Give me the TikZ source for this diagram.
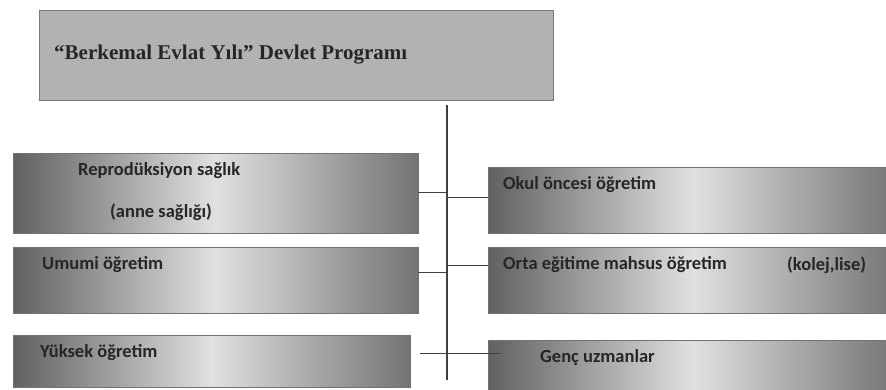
\documentclass[tikz,border=0pt]{standalone}
\usepackage{fontspec}
\setmainfont{Liberation Serif}
\newfontfamily\boxfont{Carlito}
\usepackage{tikz}
\usetikzlibrary{positioning}

\definecolor{progfill}{RGB}{178,178,178}
\definecolor{progline}{RGB}{120,120,120}

\begin{document}
\begin{tikzpicture}[x=1pt,y=-1pt]
    \useasboundingbox (0,0) rectangle (886,389);
    \begin{scope}[every node/.style={draw=progline,rectangle,anchor=north west,inner sep=0pt},
                  glossy/.style={draw=black!55,left color=black!62,right color=black!55,middle color=black!12}]
        \node[fill=progfill,minimum width=514pt,minimum height=90pt] (prog) at (39,10) {};
        \node[glossy,minimum width=405pt,minimum height=80pt] (repro) at (13,153) {};
        \node[glossy,minimum width=405pt,minimum height=66pt] (umumi) at (13,247) {};
        \node[glossy,minimum width=397pt,minimum height=52pt] (yuksek) at (13,335) {};
        \node[glossy,minimum width=410pt,minimum height=66pt] (okul) at (488,167) {};
        \node[glossy,minimum width=410pt,minimum height=66pt] (orta) at (488,247) {};
        \node[glossy,minimum width=410pt,minimum height=50pt] (genc) at (488,340) {};
    \end{scope}

    % labels
    \begin{scope}[every node/.style={anchor=west,inner sep=0pt,text=black!85}]
        \node[font=\fontsize{21}{24}\selectfont\bfseries] (progtxt) at (54,55) {“Berkemal Evlat Yılı” Devlet Programı};
        \begin{scope}[every node/.append style={font=\boxfont\fontsize{18.5}{22}\selectfont\bfseries}]
            \node (reprotxt) at (78,171) {Reprodüksiyon sağlık};
            \node (annetxt) at (110,212) {(anne sağlığı)};
            \node (umumitxt) at (42,265) {Umumi öğretim};
            \node (yuksektxt) at (40,353) {Yüksek öğretim};
            \node (okultxt) at (503,185) {Okul öncesi öğretim};
            \node (ortatxt) at (503,265) {Orta eğitime mahsus öğretim};
            \node (kolejtxt) at (787,265) {(kolej,lise)};
            \node (genctxt) at (540,358) {Genç uzmanlar};
        \end{scope}
    \end{scope}

    \coordinate (top) at (447,105);
    \coordinate (bot) at (447,380);
    \coordinate (gl) at ([xshift=10pt,yshift=8pt]yuksek.east);
    \coordinate (gr) at ([xshift=12pt]genc.west);
    \begin{scope}[every path/.style={draw=black!75,line width=1.2pt}]
        \path (top) edge (bot);
        \path ([yshift=1pt]repro.east) edge ([yshift=1pt]repro.east -| top);
        \path ([yshift=3pt]okul.west) edge ([yshift=3pt]okul.west -| top);
        \path ([yshift=8pt]umumi.east) edge ([yshift=8pt]umumi.east -| top);
        \path ([yshift=15pt]orta.west) edge ([yshift=15pt]orta.west -| top);
        \path (gl) edge (gl -| gr);
    \end{scope}
\end{tikzpicture}
\end{document}
